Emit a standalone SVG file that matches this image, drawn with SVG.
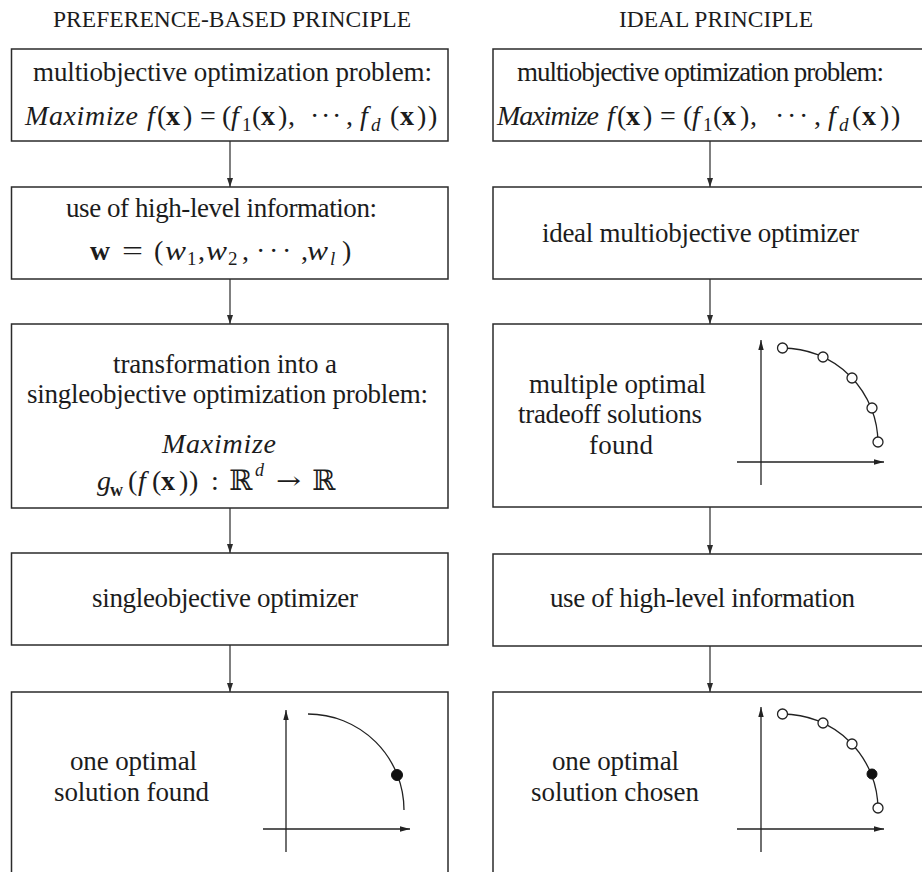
<svg xmlns="http://www.w3.org/2000/svg" width="922" height="872" viewBox="0 0 922 872">
<style>
text{font-family:"Liberation Serif","Times New Roman",serif;font-size:27px;fill:#1c1c1c}
.h{font-size:23.5px}
.m{font-size:28px}
.i{font-style:italic}
.b{font-weight:bold}
.s{font-size:19px}
.bb{font-family:"DejaVu Serif",serif;font-size:28px}
.box{fill:#fff;stroke:#2b2b2b;stroke-width:1.5}
.con{fill:none;stroke:#2b2b2b;stroke-width:1.2;marker-end:url(#ah)}
.ax{fill:none;stroke:#222;stroke-width:1.3;marker-end:url(#ah2)}
.arc{fill:none;stroke:#222;stroke-width:1.3}
.oc{fill:#fff;stroke:#222;stroke-width:1.3}
.fc{fill:#111;stroke:#111;stroke-width:1}
</style>
<defs>
<marker id="ah" markerUnits="userSpaceOnUse" markerWidth="10" markerHeight="7" refX="9" refY="3" orient="auto"><path d="M0,0 L9,3 L0,6 z" fill="#2b2b2b"/></marker>
<marker id="ah2" markerUnits="userSpaceOnUse" markerWidth="11" markerHeight="7" refX="10" refY="2.7" orient="auto"><path d="M0,0 L10,2.7 L0,5.4 z" fill="#222"/></marker>
</defs>
<rect width="922" height="872" fill="#fff"/>

<g id="titles">
<text class="h" x="232" y="27" text-anchor="middle" textLength="358">PREFERENCE-BASED PRINCIPLE</text>
<text class="h" x="716" y="27" text-anchor="middle" textLength="194">IDEAL PRINCIPLE</text>
</g>

<g id="connectors">
<line class="con" x1="230" y1="141" x2="230" y2="187"/>
<line class="con" x1="230" y1="279" x2="230" y2="324"/>
<line class="con" x1="230" y1="508" x2="230" y2="553"/>
<line class="con" x1="230" y1="645" x2="230" y2="692"/>
<line class="con" x1="710" y1="141" x2="710" y2="187"/>
<line class="con" x1="710" y1="279" x2="710" y2="324"/>
<line class="con" x1="710" y1="507" x2="710" y2="554"/>
<line class="con" x1="710" y1="646" x2="710" y2="692"/>
</g>

<g id="L1">
<rect class="box" x="11.5" y="49" width="436.5" height="92"/>
<text x="232.5" y="81" text-anchor="middle" textLength="399">multiobjective optimization problem:</text>
<text class="m i" x="25" y="125" textLength="113">Maximize</text>
<text class="m" y="125"><tspan class="i" x="147">f</tspan><tspan x="157">(</tspan><tspan class="b" x="166">x</tspan><tspan x="183">)</tspan><tspan x="200">=</tspan><tspan x="222">(</tspan><tspan class="i" x="231">f</tspan></text>
<text class="s" x="242" y="131">1</text>
<text class="m" y="125"><tspan x="252">(</tspan><tspan class="b" x="261">x</tspan><tspan x="278">)</tspan><tspan x="288">,</tspan><tspan x="310">·</tspan><tspan x="321">·</tspan><tspan x="332">·</tspan><tspan x="346">,</tspan><tspan class="i" x="360">f</tspan></text>
<text class="s i" x="371" y="131">d</text>
<text class="m" y="125"><tspan x="390">(</tspan><tspan class="b" x="400">x</tspan><tspan x="417">)</tspan><tspan x="428">)</tspan></text>
</g>

<g id="L2">
<rect class="box" x="11.5" y="187" width="436.5" height="92"/>
<text x="221.5" y="217" text-anchor="middle" textLength="311">use of high-level information:</text>
<text class="m b" x="90" y="260" textLength="20" lengthAdjust="spacingAndGlyphs">w</text>
<text class="m" x="122" y="260" textLength="21" lengthAdjust="spacingAndGlyphs">=</text>
<text class="m" x="154" y="260">(</text>
<text class="m i" x="165" y="260" textLength="21" lengthAdjust="spacingAndGlyphs">w</text>
<text class="s" x="187" y="265">1</text>
<text class="m" x="198" y="260">,</text>
<text class="m i" x="206" y="260" textLength="21" lengthAdjust="spacingAndGlyphs">w</text>
<text class="s" x="228" y="265">2</text>
<text class="m" y="260"><tspan x="242">,</tspan><tspan x="256">·</tspan><tspan x="269">·</tspan><tspan x="282">·</tspan><tspan x="301">,</tspan></text>
<text class="m i" x="307" y="260" textLength="21" lengthAdjust="spacingAndGlyphs">w</text>
<text class="s i" x="330" y="265">l</text>
<text class="m" x="342" y="260">)</text>
</g>

<g id="L3">
<rect class="box" x="11.5" y="324" width="436.5" height="184"/>
<text x="225" y="373" text-anchor="middle" textLength="224">transformation into a</text>
<text x="227.5" y="403" text-anchor="middle" textLength="401">singleobjective optimization problem:</text>
<text class="m i" x="162" y="453" textLength="114">Maximize</text>
<text class="m i" x="97" y="490">g</text>
<text class="b" x="110" y="496" style="font-size:18px">w</text>
<text class="m" y="490"><tspan x="128">(</tspan><tspan class="i" x="138">f</tspan><tspan x="152">(</tspan><tspan class="b" x="161">x</tspan><tspan x="179">)</tspan><tspan x="189">)</tspan><tspan x="211">:</tspan></text>
<text class="bb" x="229" y="490">ℝ</text>
<text class="i" x="255" y="476" style="font-size:18px">d</text>
<text class="bb" x="276" y="489" style="font-size:24px" textLength="25" lengthAdjust="spacingAndGlyphs">→</text>
<text class="bb" x="312" y="490">ℝ</text>
</g>

<g id="L4">
<rect class="box" x="11.5" y="553" width="436.5" height="92"/>
<text x="225" y="607" text-anchor="middle" textLength="266">singleobjective optimizer</text>
</g>

<g id="L5">
<rect class="box" x="11.5" y="692" width="436.5" height="200"/>
<text x="133.5" y="770" text-anchor="middle" textLength="127">one optimal</text>
<text x="131.5" y="801" text-anchor="middle" textLength="155">solution found</text>
<line class="ax" x1="286" y1="852" x2="286" y2="710"/>
<line class="ax" x1="263" y1="829" x2="410" y2="829"/>
<path class="arc" d="M308,714 A96,96 0 0 1 404,810"/>
<circle class="fc" cx="397" cy="775" r="5.5"/>
</g>

<g id="R1">
<rect class="box" x="493" y="49" width="437" height="92"/>
<text x="700.5" y="81" text-anchor="middle" textLength="367">multiobjective optimization problem:</text>
<text class="m i" x="497" y="125" textLength="102">Maximize</text>
<text class="m" y="125"><tspan class="i" x="607">f</tspan><tspan x="617">(</tspan><tspan class="b" x="626">x</tspan><tspan x="643">)</tspan><tspan x="660">=</tspan><tspan x="683">(</tspan><tspan class="i" x="692">f</tspan></text>
<text class="s" x="703" y="131">1</text>
<text class="m" y="125"><tspan x="713">(</tspan><tspan class="b" x="722">x</tspan><tspan x="740">)</tspan><tspan x="750">,</tspan><tspan x="775">·</tspan><tspan x="787">·</tspan><tspan x="799">·</tspan><tspan x="814">,</tspan><tspan class="i" x="828">f</tspan></text>
<text class="s i" x="839" y="131">d</text>
<text class="m" y="125"><tspan x="852">(</tspan><tspan class="b" x="862">x</tspan><tspan x="880">)</tspan><tspan x="891">)</tspan></text>
</g>

<g id="R2">
<rect class="box" x="493" y="187" width="437" height="92"/>
<text x="700.5" y="242" text-anchor="middle" textLength="317">ideal multiobjective optimizer</text>
</g>

<g id="R3">
<rect class="box" x="493" y="324" width="437" height="183"/>
<text x="617.5" y="393" text-anchor="middle" textLength="177">multiple optimal</text>
<text x="610" y="423" text-anchor="middle" textLength="184">tradeoff solutions</text>
<text x="621" y="454" text-anchor="middle" textLength="64">found</text>
<line class="ax" x1="761" y1="485" x2="761" y2="340"/>
<line class="ax" x1="737" y1="462" x2="884" y2="462"/>
<path class="arc" d="M782.5,348 A95.5,95.5 0 0 1 878,443.5"/>
<circle class="oc" cx="782.5" cy="348" r="5"/>
<circle class="oc" cx="823" cy="357" r="5"/>
<circle class="oc" cx="852" cy="378" r="5"/>
<circle class="oc" cx="872" cy="408" r="5"/>
<circle class="oc" cx="878" cy="442" r="5"/>
</g>

<g id="R4">
<rect class="box" x="493" y="554" width="437" height="92"/>
<text x="702.5" y="607" text-anchor="middle" textLength="305">use of high-level information</text>
</g>

<g id="R5">
<rect class="box" x="493" y="692" width="437" height="200"/>
<text x="615.5" y="770" text-anchor="middle" textLength="127">one optimal</text>
<text x="615" y="801" text-anchor="middle" textLength="168">solution chosen</text>
<line class="ax" x1="761" y1="852" x2="761" y2="707"/>
<line class="ax" x1="737" y1="829" x2="884" y2="829"/>
<path class="arc" d="M782.5,714 A95.5,95.5 0 0 1 878,809.5"/>
<circle class="oc" cx="782.5" cy="714" r="5"/>
<circle class="oc" cx="823" cy="723" r="5"/>
<circle class="oc" cx="852" cy="744" r="5"/>
<circle class="fc" cx="872" cy="774" r="5"/>
<circle class="oc" cx="878" cy="808" r="5"/>
</g>
</svg>
